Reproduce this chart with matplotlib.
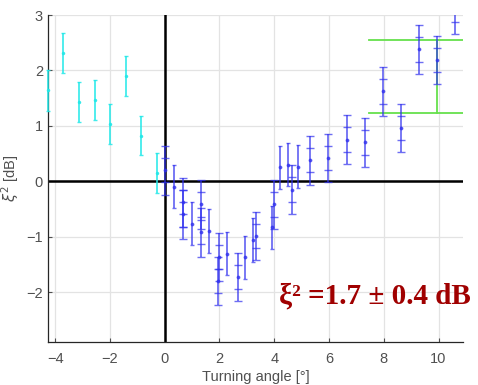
import matplotlib
matplotlib.use('Agg')
import matplotlib.pyplot as plt

plt.rcParams['font.family'] = ['Liberation Sans', 'DejaVu Sans']

# negative-angle points (cyan)
cyan_x = [-4.27, -3.70, -3.13, -2.56, -1.99, -1.42, -0.85, -0.28]
cyan_y = [1.64, 2.32, 1.43, 1.46, 1.03, 1.90, 0.82, 0.15]
cyan_err = [0.37, 0.36, 0.36, 0.36, 0.36, 0.36, 0.35, 0.36]

# blue points with outer + inner error marks
blue_x = [0.00, 0.67, 0.67, 1.31, 1.31, 1.97, 1.95, 2.66, 3.33, 4.00,
          4.64, 5.32, 5.98, 6.65, 7.30, 7.97, 8.63, 9.28, 9.95, 10.60]
blue_y = [0.20, -0.38, -0.60, -0.42, -0.92, -1.37, -1.80, -1.73, -0.99, -0.42,
          -0.15, 0.38, 0.42, 0.75, 0.70, 1.62, 0.96, 2.38, 2.19, 3.10]
blue_err = 0.44
blue_inner = 0.22

# blue points with single error bars
plain_x = [0.33, 1.00, 1.62, 2.27, 2.93, 3.24, 3.91, 4.21, 4.52, 4.85]
plain_y = [-0.10, -0.77, -0.90, -1.31, -1.37, -1.06, -0.83, 0.25, 0.30, 0.26]
plain_err = 0.39

# green bracket
bracket_x = [7.47, 10.95]
bracket_top = 2.54
bracket_bot = 1.24
bracket_vx = 9.95

fig = plt.figure(figsize=(4.78, 3.85), dpi=100)
ax = fig.add_axes([0.100, 0.112, 0.869, 0.849])

ax.grid(True, color='#e3e3e3', linewidth=0.9, zorder=0)
ax.axhline(0, color='black', linewidth=1.8, zorder=2)
ax.axvline(0, color='black', linewidth=1.8, zorder=2)

# green bracket under the blue bars
ax.plot(bracket_x, [bracket_top, bracket_top], color='#66e04c', lw=1.3, zorder=3)
ax.plot(bracket_x, [bracket_bot, bracket_bot], color='#66e04c', lw=1.3, zorder=3)
ax.plot([bracket_vx, bracket_vx], [bracket_bot, bracket_top], color='#66e04c',
        lw=1.3, zorder=3)

ax.errorbar(cyan_x, cyan_y, yerr=cyan_err, fmt='.', color='#22e8e8', ms=3,
            elinewidth=1.3, capsize=1.5, capthick=1.0, alpha=0.85, zorder=4,
            clip_on=False)
ax.errorbar(blue_x, blue_y, yerr=blue_err, fmt='.', color='#3030ee', ms=3.5,
            elinewidth=1.3, capsize=2.6, capthick=1.0, alpha=0.7, zorder=5)
ax.errorbar(blue_x, blue_y, yerr=blue_inner, fmt='none', ecolor='#3030ee',
            elinewidth=0, capsize=2.6, capthick=1.0, alpha=0.7, zorder=5)
ax.errorbar(plain_x, plain_y, yerr=plain_err, fmt='.', color='#3030ee', ms=3.5,
            elinewidth=1.3, capsize=1.5, capthick=1.0, alpha=0.7, zorder=5)

ax.set_xlim(-4.27, 10.9)
ax.set_ylim(-2.9, 3.0)
ax.set_xticks([-4, -2, 0, 2, 4, 6, 8, 10])
ax.set_yticks([-2, -1, 0, 1, 2, 3])
ax.tick_params(direction='in', labelsize=10.5, colors='#505050', length=3)
ax.tick_params(axis='x', pad=7)
for side in ['top', 'right']:
    ax.spines[side].set_visible(False)
for side in ['left', 'bottom']:
    ax.spines[side].set_color('#262626')
    ax.spines[side].set_linewidth(0.9)

ax.set_xlabel('Turning angle [°]', fontsize=10.5, color='#505050', labelpad=3)
ax.set_ylabel('$\\xi^2$ [dB]', fontsize=10.5, color='#505050', labelpad=4)

ax.text(7.68, -2.07, '\u03be\u00b2 =1.7 \u00b1 0.4 dB', color='#a00000',
        fontsize=21, fontweight='bold', family=['Liberation Serif', 'DejaVu Serif'],
        ha='center', va='center', clip_on=False, zorder=6)

fig.savefig('out.png', dpi=100)
